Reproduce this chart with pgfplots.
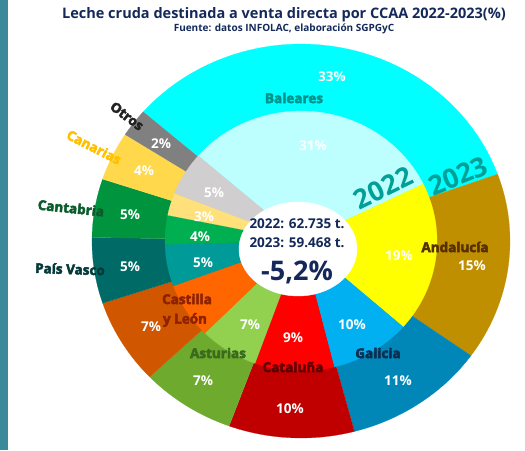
\documentclass[border=0pt]{standalone}
\usepackage{pgfplots}
\pgfplotsset{compat=1.18}
\usepackage{fontspec}
\setmainfont{Open Sans}
\newfontfamily\heavy{Open Sans}[BoldFeatures={FakeBold=3.5}]

% 2023 (outer ring) colours
\definecolor{BalB}{HTML}{00FFFF}
\definecolor{AndB}{HTML}{BF8F00}
\definecolor{GalB}{HTML}{0087B8}
\definecolor{CatB}{HTML}{C00000}
\definecolor{AstB}{HTML}{6EAA2E}
\definecolor{CyLB}{HTML}{D05600}
\definecolor{PVB}{HTML}{006B66}
\definecolor{CanB}{HTML}{00943E}
\definecolor{CnrB}{HTML}{FFD84B}
\definecolor{OtrB}{HTML}{808080}
% 2022 (inner ring) colours
\definecolor{BalA}{HTML}{BDFFFF}
\definecolor{AndA}{HTML}{FFFF00}
\definecolor{GalA}{HTML}{00B0F0}
\definecolor{CatA}{HTML}{FF0000}
\definecolor{AstA}{HTML}{92D050}
\definecolor{CyLA}{HTML}{FF6600}
\definecolor{PVA}{HTML}{009B98}
\definecolor{CanA}{HTML}{00B050}
\definecolor{CnrA}{HTML}{FFE07B}
\definecolor{OtrA}{HTML}{D0CECE}
\definecolor{navy}{HTML}{14295A}
\definecolor{sidebar}{HTML}{3A8A9A}
% label colours
\definecolor{tBal}{HTML}{00948C}
\definecolor{tYear}{HTML}{00A098}
\definecolor{tAnd}{HTML}{573000}
\definecolor{tGal}{HTML}{0B2D50}
\definecolor{tCat}{HTML}{5E0000}
\definecolor{tAst}{HTML}{3A6A1E}
\definecolor{tCyL}{HTML}{8E2200}
\definecolor{tPV}{HTML}{06393A}
\definecolor{tCan}{HTML}{0A5C2C}
\definecolor{tCnr}{HTML}{FFC000}
\definecolor{tOtr}{HTML}{222222}

\def\cx{301}\def\cy{209}
\xdef\cumang{139}
\newcommand\wedgeplot[4]{%
  \pgfmathsetmacro\aone{\cumang}%
  \pgfmathsetmacro\atwo{\cumang-3.6*#1}%
  \edef\doplot{\noexpand\addplot[fill=#4,draw=#4,line width=0.2pt,samples at={-1,0,1,...,48}]
    ({\cx+((x<0)?0:#2)*cos(\aone+(x/48)*(\atwo-\aone))},{\cy+((x<0)?0:#3)*sin(\aone+(x/48)*(\atwo-\aone))});}%
  \doplot
  \xdef\cumang{\atwo}%
}
\newcommand\lab[5]{% x y rot colour text
  \node[font=\heavy\bfseries\fontsize{13.5}{15}\selectfont,text=#4,rotate=#3,inner sep=0pt] at (axis cs:#1,#2) {#5};
}
\newcommand\pct[3]{\node[font=\bfseries\fontsize{13.5}{15}\selectfont,text=white,inner sep=1pt] at (axis cs:#1,#2) {#3};}

\begin{document}
\begin{tikzpicture}
\begin{axis}[x=1pt,y=1pt,xmin=0,xmax=525,ymin=0,ymax=450,hide axis,scale only axis,clip=false,
  /pgf/number format/assume math mode=true]
\path (axis cs:0,0) rectangle (axis cs:525,450);
% side bar
\addplot[fill=sidebar,draw=none] coordinates {(0,0) (8,0) (8,450) (0,450)};
% outer ring 2023: shares (%) clockwise from Baleares
\xdef\cumang{139}
\wedgeplot{33.1}{209}{197}{BalB}% Baleares
\wedgeplot{15.4}{209}{197}{AndB}% Andalucia
\wedgeplot{11.0}{209}{197}{GalB}% Galicia
\wedgeplot{9.7}{209}{197}{CatB}% Cataluna
\wedgeplot{7.3}{209}{197}{AstB}% Asturias
\wedgeplot{7.0}{209}{197}{CyLB}% Castilla y Leon
\wedgeplot{5.4}{209}{197}{PVB}% Pais Vasco
\wedgeplot{4.8}{209}{197}{CanB}% Cantabria
\wedgeplot{4.0}{209}{197}{CnrB}% Canarias
\wedgeplot{2.3}{209}{197}{OtrB}% Otros
% inner ring 2022
\xdef\cumang{139}
\wedgeplot{31.4}{136}{130}{BalA}
\wedgeplot{18.7}{136}{130}{AndA}
\wedgeplot{9.6}{136}{130}{GalA}
\wedgeplot{9.4}{136}{130}{CatA}
\wedgeplot{7.0}{136}{130}{AstA}
\wedgeplot{6.9}{136}{130}{CyLA}
\wedgeplot{5.2}{136}{130}{PVA}
\wedgeplot{3.6}{136}{130}{CanA}
\wedgeplot{2.8}{136}{130}{CnrA}
\wedgeplot{5.4}{136}{130}{OtrA}
% centre hole
\addplot[fill=white,draw=white,domain=0:360,samples=90] ({298+59*cos(x)},{201+47*sin(x)});

% percentages 2023
\pct{332}{373}{33\%}
\pct{472}{184}{15\%}
\pct{398}{69}{11\%}
\pct{290}{41}{10\%}
\pct{203}{69}{7\%}
\pct{151}{123}{7\%}
\pct{130}{183}{5\%}
\pct{130}{235}{5\%}
\pct{144}{279}{4\%}
\pct{161}{306}{2\%}
% percentages 2022
\pct{313}{304}{31\%}
\pct{399}{194}{19\%}
\pct{352}{125}{10\%}
\pct{293}{112}{9\%}
\pct{250}{125}{7\%}
\pct{203}{187}{5\%}
\pct{200}{213}{4\%}
\pct{204}{233}{3\%}
\pct{214}{257}{5\%}

% category labels
\lab{294}{352}{0}{tBal}{Baleares}
\lab{455}{203}{0}{tAnd}{Andalucía}
\lab{378}{97}{0}{tGal}{Galicia}
\lab{293}{83}{0}{tCat}{Cataluña}
\lab{218}{97}{0}{tAst}{Asturias}
\lab{187}{151}{0}{tCyL}{Castilla}
\lab{185}{130}{0}{tCyL}{y León}
\lab{70}{181}{-2}{tPV}{País Vasco}
\lab{71}{242}{-6}{tCan}{Cantabria}
\lab{94}{303}{-27}{tCnr}{Canarias}
\lab{127}{334}{-37}{tOtr}{Otros}

% year labels
\node[font=\bfseries\fontsize{27}{29}\selectfont,text=tYear,rotate=26,inner sep=0pt] at (axis cs:383,262) {2022};
\node[font=\bfseries\fontsize{27}{29}\selectfont,text=tYear,rotate=22,inner sep=0pt] at (axis cs:458,274) {2023};

% centre text
\node[font=\bfseries\fontsize{13.5}{15}\selectfont,text=navy] at (axis cs:297,226) {2022: 62.735 t.};
\node[font=\bfseries\fontsize{13.5}{15}\selectfont,text=navy] at (axis cs:297,207) {2023: 59.468 t.};
\node[font=\bfseries\fontsize{27}{30}\selectfont,text=navy] at (axis cs:297,178) {-5,2\%};

% titles
\node[font=\bfseries\fontsize{14.5}{16}\selectfont,text=navy] at (axis cs:284,435) {Leche cruda destinada a venta directa por CCAA 2022-2023(\%)};
\node[font=\bfseries\fontsize{10}{11}\selectfont,text=navy] at (axis cs:284,421) {Fuente: datos INFOLAC, elaboración SGPGyC};
\end{axis}
\end{tikzpicture}
\end{document}
